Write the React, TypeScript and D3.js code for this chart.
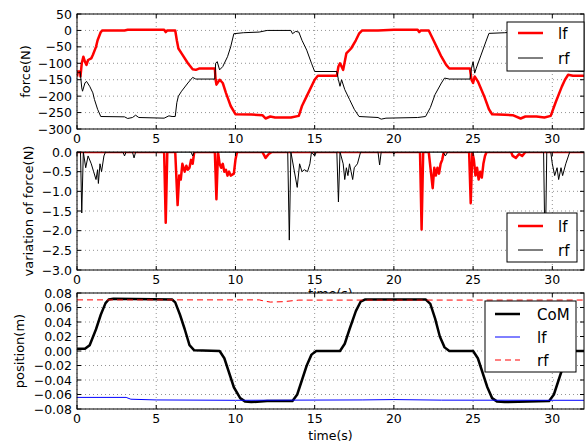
import React from 'react';
import * as d3 from 'd3';

// ---- data (time in s) ----
const lfForce: [number, number][] = [
  [0, -140], [0.05, -125], [0.2, -125], [0.22, -140], [0.3, -100], [0.4, -80], [0.5, -95], [0.6, -105],
  [0.7, -90], [0.9, -85], [1.0, -75], [1.2, -50], [1.3, -30], [1.5, -5], [1.6, 0], [3.0, 0], [3.2, 2],
  [5.5, 2], [5.6, -5], [5.7, 0], [6.2, 0], [6.3, -30], [6.4, -55], [6.6, -70], [7.0, -100], [7.3, -118],
  [7.5, -120], [7.7, -116], [8.7, -116], [8.75, -150], [8.8, -165], [9.0, -150], [9.2, -160], [9.4, -190],
  [9.7, -230], [10.0, -255], [11.0, -256], [11.7, -258], [11.9, -268], [12.2, -262], [12.5, -265],
  [13.5, -265], [14.0, -260], [14.2, -230], [14.5, -200], [15.0, -150], [15.2, -138], [16.4, -138],
  [16.5, -110], [16.6, -100], [16.8, -120], [17.0, -70], [17.3, -55], [17.6, -30], [17.8, -10], [18.0, 0],
  [19.0, 0], [20.0, 2], [21.5, 2], [21.6, -5], [21.7, 0], [22.2, 0], [22.5, -30], [22.8, -60], [23.0, -80],
  [23.3, -105], [23.5, -116], [24.8, -116], [24.9, -150], [25.0, -160], [25.1, -140], [25.3, -155],
  [25.7, -200], [26.0, -240], [26.2, -255], [27.0, -257], [27.5, -258], [28.0, -268], [28.3, -262],
  [29.0, -262], [29.5, -265], [29.9, -260], [30.2, -220], [30.6, -171], [30.8, -150], [31.0, -135],
  [31.3, -138], [32, -138],
];
const rfForce: [number, number][] = [
  [0, -125], [0.1, -130], [0.2, -125], [0.3, -175], [0.35, -185], [0.5, -160], [0.6, -155], [0.8, -170],
  [1.0, -190], [1.1, -210], [1.3, -240], [1.5, -262], [3.0, -263], [3.2, -268], [3.5, -265], [3.7, -258],
  [3.9, -265], [5.5, -267], [5.8, -260], [6.0, -262], [6.2, -262], [6.3, -220], [6.4, -200], [6.6, -185],
  [7.0, -160], [7.3, -143], [7.5, -148], [8.7, -148], [8.75, -100], [8.85, -95], [9.0, -120], [9.2, -110],
  [9.5, -80], [9.7, -50], [9.9, -10], [10.5, -7], [11.5, -5], [12.0, 0], [13.5, 0], [13.6, -10],
  [13.8, -3], [14.0, -5], [14.2, -30], [14.5, -60], [14.8, -100], [15.0, -125], [16.4, -125], [16.5, -150],
  [16.6, -170], [16.7, -150], [16.9, -180], [17.2, -210], [17.5, -240], [17.8, -262], [19.0, -265],
  [19.2, -270], [19.5, -267], [21.5, -265], [22.0, -262], [22.3, -235], [22.6, -195], [23.0, -160],
  [23.2, -145], [23.5, -148], [24.8, -148], [24.9, -115], [25.0, -95], [25.1, -130], [25.2, -115],
  [25.5, -75], [25.8, -35], [26.0, -9], [27.0, -7], [28.0, -3], [29.8, -3], [30.0, -20], [30.4, -70],
  [30.8, -110], [31.0, -123], [32, -125],
];

const lfVar: [number, number][] = [
  [0, 0], [5.5, 0], [5.6, -1.8], [5.7, 0], [6.2, 0], [6.35, -1.35], [6.45, -0.6], [6.55, -0.7], [6.65, -0.3],
  [6.8, -0.5], [6.9, -0.35], [7.0, -0.45], [7.1, -0.4], [7.2, -0.2], [7.3, -0.3], [7.4, 0], [8.7, 0],
  [8.8, -1.2], [8.9, 0], [9.0, -0.3], [9.1, -0.4], [9.2, -0.3], [9.3, -0.5], [9.4, -0.45], [9.5, -0.6],
  [9.6, -0.5], [9.7, -0.6], [9.9, -0.55], [10.0, -0.2], [10.1, 0], [11.7, 0], [11.9, -0.15], [12.1, -0.05],
  [12.3, 0], [21.65, 0], [21.75, -1.97], [21.85, 0], [22.2, 0], [22.45, -0.92], [22.55, -0.4], [22.65, -0.6],
  [22.75, -0.4], [22.85, -0.55], [22.95, -0.3], [23.05, -0.2], [23.15, 0], [24.75, 0], [24.85, -1.3],
  [24.95, 0], [25.05, -0.2], [25.15, -0.6], [25.25, -0.4], [25.35, -0.7], [25.45, -0.5], [25.55, -0.65],
  [25.65, -0.3], [25.75, -0.1], [25.85, 0], [27.4, 0], [27.5, -0.1], [27.7, -0.15], [27.9, -0.05],
  [28.1, -0.1], [28.3, 0], [32, 0],
];
const rfVar: [number, number][] = [
  [0, 0], [0.22, 0], [0.3, -1.55], [0.4, 0], [0.55, -0.4], [0.7, -0.1], [0.9, -0.3], [1.05, -0.5],
  [1.2, -0.7], [1.3, -0.45], [1.35, -0.8], [1.45, -0.3], [1.55, -0.5], [1.7, -0.1], [1.8, 0], [2.9, 0],
  [3.0, -0.1], [3.1, 0], [3.5, 0], [3.6, -0.15], [3.7, 0], [7.2, 0], [7.3, -0.1], [7.4, 0], [13.3, 0],
  [13.4, -2.24], [13.5, 0], [13.9, -0.9], [14.05, -0.3], [14.2, -0.5], [14.35, -0.45], [14.55, -0.5],
  [14.7, -0.3], [14.8, 0], [15.0, -0.1], [15.1, 0], [16.4, 0], [16.5, -1.27], [16.6, 0], [16.8, -0.3],
  [16.9, -0.7], [17.0, -0.4], [17.1, -0.6], [17.2, -0.3], [17.3, -0.5], [17.4, -0.7], [17.5, -0.4],
  [17.7, -0.3], [17.9, 0], [19.0, 0], [19.1, -0.33], [19.2, 0], [19.9, 0], [20.0, -0.05], [20.1, 0],
  [23.1, 0], [23.25, -0.1], [23.4, 0], [29.45, 0], [29.55, -2.8], [29.65, 0], [29.9, 0], [30.0, -0.3],
  [30.15, -0.6], [30.3, -0.4], [30.4, -0.7], [30.55, -0.4], [30.65, -0.6], [30.85, -0.3], [31.1, 0], [32, 0],
];

const comPos: [number, number][] = [
  [0, 0.003], [0.5, 0.003], [0.8, 0.008], [1.2, 0.03], [1.5, 0.05], [1.8, 0.066], [2.0, 0.071], [2.3, 0.072],
  [6.0, 0.071], [6.2, 0.067], [6.5, 0.05], [6.8, 0.03], [7.1, 0.008], [7.4, 0.001], [9.0, 0.0], [9.3, -0.01],
  [9.6, -0.03], [9.9, -0.05], [10.3, -0.065], [10.6, -0.0695], [11.0, -0.0705], [12.0, -0.069],
  [13.6, -0.069], [13.9, -0.06], [14.2, -0.04], [14.5, -0.02], [14.8, -0.005], [15.1, 0.0], [16.6, 0.0],
  [16.9, 0.01], [17.2, 0.03], [17.6, 0.055], [17.9, 0.068], [18.2, 0.0712], [22.0, 0.0712], [22.3, 0.065],
  [22.6, 0.045], [22.9, 0.02], [23.2, 0.005], [23.5, 0.0], [25.0, 0.0], [25.3, -0.01], [25.6, -0.03],
  [25.9, -0.05], [26.2, -0.065], [26.5, -0.0695], [27.0, -0.0705], [29.8, -0.069], [30.1, -0.06],
  [30.4, -0.04], [30.7, -0.02], [31.0, -0.005], [31.3, 0.0], [32, 0.0],
];
const lfPos: [number, number][] = [
  [0, -0.064], [3.1, -0.064], [3.4, -0.0665], [5, -0.0675], [10, -0.068], [18, -0.0675], [20, -0.067],
  [23, -0.0678], [32, -0.068],
];
const rfPos: [number, number][] = [
  [0, 0.0705], [11.5, 0.0705], [11.8, 0.069], [12.2, 0.0675], [13, 0.068], [14, 0.0702], [32, 0.0703],
];

const xTicks = [0, 5, 10, 15, 20, 25, 30];
const forceTicks = [50, 0, -50, -100, -150, -200, -250, -300];
const varTicks = [0, -0.5, -1, -1.5, -2, -2.5, -3];
const posTicks = [0.08, 0.06, 0.04, 0.02, 0, -0.02, -0.04, -0.06, -0.08];

const FONT = 'DejaVu Sans';
const FS = 12.5;
const L = 77, R = 584;
const x = d3.scaleLinear().domain([0, 32]).range([L, R]);
const fmtMinus = (s: string) => s.replace('-', '\u2212');

type Series = { data: [number, number][]; color: string; width: number; dash?: string; label: string };
type LegendBox = { x: number; y: number; w: number; h: number; lineX: number; textX: number; rows: number[] };

function Panel(props: {
  id: string; top: number; bottom: number; domain: [number, number]; ticks: number[];
  fmt: (v: number) => string; ylabel: string; ylabelX: number; series: Series[]; legend: LegendBox;
  xlabelY?: number;
}) {
  const { id, top, bottom, domain, ticks, fmt, ylabel, ylabelX, series, legend, xlabelY } = props;
  const y = d3.scaleLinear().domain(domain).range([bottom, top]);
  const line = d3.line<[number, number]>().x(d => x(d[0])).y(d => y(d[1]));
  return (
    <g>
      <rect x={L} y={top} width={R - L} height={bottom - top} fill="#fff" />
      <clipPath id={id}><rect x={L} y={top} width={R - L} height={bottom - top} /></clipPath>
      {/* grid */}
      <g stroke="#000" strokeWidth={0.6} strokeDasharray="1,3" opacity={0.7}>
        {xTicks.map(t => <line key={'gx' + t} x1={x(t)} x2={x(t)} y1={top} y2={bottom} />)}
        {ticks.map(t => <line key={'gy' + t} x1={L} x2={R} y1={y(t)} y2={y(t)} />)}
      </g>
      <g clipPath={`url(#${id})`} fill="none" strokeLinejoin="round">
        {series.map(s => (
          <path key={s.label} d={line(s.data) || ''} stroke={s.color} strokeWidth={s.width} strokeDasharray={s.dash} />
        ))}
      </g>
      {/* ticks, inward on all sides */}
      <g stroke="#000" strokeWidth={1}>
        {xTicks.map(t => (
          <g key={'tx' + t}>
            <line x1={x(t)} x2={x(t)} y1={bottom} y2={bottom - 4} />
            <line x1={x(t)} x2={x(t)} y1={top} y2={top + 4} />
          </g>
        ))}
        {ticks.map(t => (
          <g key={'ty' + t}>
            <line x1={L} x2={L + 4} y1={y(t)} y2={y(t)} />
            <line x1={R} x2={R - 4} y1={y(t)} y2={y(t)} />
          </g>
        ))}
      </g>
      <rect x={L} y={top} width={R - L} height={bottom - top} fill="none" stroke="#000" strokeWidth={1} />
      <g fontFamily={FONT} fontSize={FS} fill="#000">
        {xTicks.map(t => (
          <text key={'lx' + t} x={x(t)} y={bottom + 14} textAnchor="middle">{t}</text>
        ))}
        {ticks.map(t => (
          <text key={'ly' + t} x={L - 5} y={y(t) + 4.5} textAnchor="end">{fmtMinus(fmt(t))}</text>
        ))}
        <text transform={`translate(${ylabelX},${(top + bottom) / 2}) rotate(-90)`} textAnchor="middle" fontSize={13}>{ylabel}</text>
        {xlabelY !== undefined && (
          <text x={(L + R) / 2} y={xlabelY} textAnchor="middle">time(s)</text>
        )}
      </g>
      {/* legend */}
      <rect x={legend.x} y={legend.y} width={legend.w} height={legend.h} fill="#fff" stroke="#000" strokeWidth={1} />
      {series.map((s, i) => (
        <g key={'lg' + s.label}>
          <line x1={legend.x + legend.lineX} x2={legend.x + legend.lineX + 25} y1={legend.rows[i]} y2={legend.rows[i]}
            stroke={s.color} strokeWidth={s.width} strokeDasharray={s.dash} />
          <text x={legend.x + legend.textX} y={legend.rows[i] + 5.5} fontFamily={FONT} fontSize={15}>{s.label}</text>
        </g>
      ))}
    </g>
  );
}

export default function App() {
  return (
    <svg width={586} height={442} style={{ position: 'absolute', left: 0, top: 0, background: '#fff' }}>
      <rect width={586} height={442} fill="#fff" />
      <Panel id="c1" top={14} bottom={129} domain={[-300, 50]} ticks={forceTicks} fmt={d3.format('d')}
        ylabel="force(N)" ylabelX={30}
        series={[
          { data: lfForce, color: '#ff0000', width: 2.5, label: 'lf' },
          { data: rfForce, color: '#000', width: 1, label: 'rf' },
        ]}
        legend={{ x: 507, y: 22, w: 77, h: 49, lineX: 11, textX: 51, rows: [33, 58] }} />
      <Panel id="c2" top={152} bottom={270} domain={[-3, 0]} ticks={varTicks} fmt={d3.format('.1f')}
        ylabel="variation of force(N)" ylabelX={33} xlabelY={298}
        series={[
          { data: lfVar, color: '#ff0000', width: 2.5, label: 'lf' },
          { data: rfVar, color: '#000', width: 1, label: 'rf' },
        ]}
        legend={{ x: 507, y: 213, w: 70, h: 49, lineX: 11, textX: 51, rows: [226, 250] }} />
      <Panel id="c3" top={293} bottom={409} domain={[-0.08, 0.08]} ticks={posTicks} fmt={d3.format('.2f')}
        ylabel="position(m)" ylabelX={24} xlabelY={440}
        series={[
          { data: comPos, color: '#000', width: 2.5, label: 'CoM' },
          { data: lfPos, color: '#0000ff', width: 1, label: 'lf' },
          { data: rfPos, color: '#ff0000', width: 1, dash: '6,4', label: 'rf' },
        ]}
        legend={{ x: 485, y: 301, w: 91, h: 71, lineX: 10, textX: 52, rows: [314, 337, 360] }} />
    </svg>
  );
}
